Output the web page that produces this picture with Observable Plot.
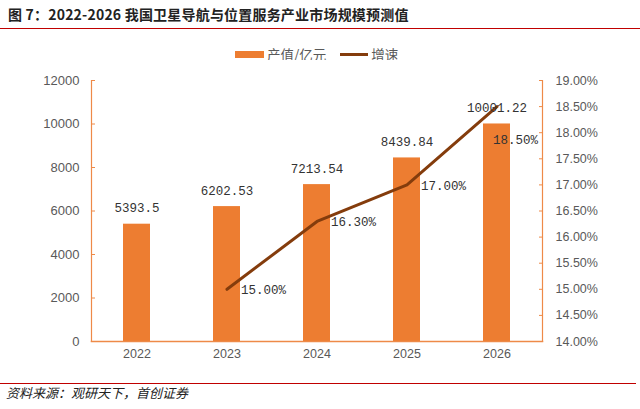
<!DOCTYPE html>
<html><head><meta charset="utf-8">
<script src="https://cdn.jsdelivr.net/npm/d3@7"></script>
<script src="https://cdn.jsdelivr.net/npm/@observablehq/plot@0.6"></script>
<style>
body{margin:0;background:#fff;}
#wrap{position:relative;width:640px;height:409px;overflow:hidden;background:#fff;font-family:"Noto Sans CJK SC",sans-serif;}
#title{position:absolute;left:8px;top:4px;font-size:14px;font-weight:bold;color:#222;white-space:nowrap;letter-spacing:0.2px;}
#rule1{position:absolute;left:0;top:28px;width:640px;height:0;border-top:1.5px solid #C00000;}
#legend{position:absolute;left:235px;top:42px;font-size:13.5px;color:#595959;white-space:nowrap;}
#legend span{display:inline-block;vertical-align:middle;}
#chart{position:absolute;left:0;top:60px;}
#rule2{position:absolute;left:0;top:383px;width:636px;height:0;border-top:1.5px solid #C00000;}
#caption{position:absolute;left:6px;top:383px;font-size:13px;font-style:italic;color:#222;white-space:nowrap;}
</style></head>
<body><div id="wrap">
<div id="title"></div>
<div id="rule1"></div>
<div id="legend"></div>
<div id="chart"></div>
<div id="rule2"></div>
<div id="caption"></div>
</div>
<script>
const titleText = "图 7：2022-2026 我国卫星导航与位置服务产业市场规模预测值";
const captionText = "资料来源：观研天下，首创证券";
const seriesNames = ["产值/亿元", "增速"];
const years = ["2022", "2023", "2024", "2025", "2026"];
const output = [5393.5, 6202.53, 7213.54, 8439.84, 10001.22];
const outputLabels = ["5393.5", "6202.53", "7213.54", "8439.84", "10001.22"];
const growth = [null, 15.00, 16.30, 17.00, 18.50];
const growthLabels = ["", "15.00%", "16.30%", "17.00%", "18.50%"];
const leftTicks = [0, 2000, 4000, 6000, 8000, 10000, 12000];
const rightTicks = [14, 14.5, 15, 15.5, 16, 16.5, 17, 17.5, 18, 18.5, 19];

const barColor = "#ED7D31";
const lineColor = "#843C0C";
const axisColor = "#EE8A48";
const textColor = "#595959";

document.getElementById("title").textContent = titleText;
document.getElementById("caption").textContent = captionText;
document.getElementById("legend").innerHTML =
  `<span style="width:29px;height:7px;background:${barColor}"></span>` +
  `<span style="margin-left:3px">${seriesNames[0]}</span>` +
  `<span style="width:28px;height:3px;background:${lineColor};margin-left:14px"></span>` +
  `<span style="margin-left:3px">${seriesNames[1]}</span>`;

const yMax = 12000, rMin = 14, rMax = 19;
const toLeft = p => (p - rMin) / (rMax - rMin) * yMax;
const toRight = v => v / yMax * (rMax - rMin) + rMin;

const rows = years.map((y, i) => ({year: y, output: output[i], outLabel: outputLabels[i], growth: growth[i], gLabel: growthLabels[i]}));
const lineRows = rows.filter(d => d.growth != null);
const lastRow = lineRows[lineRows.length - 1];
const midRows = lineRows.slice(0, -1);
const labelFont = "Liberation Mono, DejaVu Sans Mono, monospace";

const plot = Plot.plot({
  width: 640,
  height: 311,
  marginLeft: 91,
  marginRight: 98,
  marginTop: 20,
  marginBottom: 30,
  style: {fontFamily: "Liberation Sans, Arial, sans-serif", fontSize: "12.5px", color: textColor, background: "#fff"},
  x: {domain: years, paddingInner: 0.70, paddingOuter: 0.35, label: null},
  y: {domain: [0, yMax], label: null},
  marks: [
    Plot.barY(rows, {x: "year", y: "output", fill: barColor}),
    Plot.frame({anchor: "left", stroke: axisColor, strokeWidth: 1.2}),
    Plot.frame({anchor: "right", stroke: axisColor, strokeWidth: 1.2}),
    Plot.frame({anchor: "bottom", stroke: axisColor, strokeWidth: 1.5}),
    Plot.axisY({anchor: "left", ticks: leftTicks, tickFormat: d3.format("d"), tickSize: -4, tickPadding: 16, stroke: axisColor, fill: textColor, fontSize: 13, label: null}),
    Plot.axisY({anchor: "right", ticks: rightTicks.map(toLeft), tickFormat: v => toRight(v).toFixed(2) + "%", tickSize: -4, tickPadding: 17, stroke: axisColor, fill: textColor, label: null}),
    Plot.axisX({anchor: "bottom", tickSize: 0, tickPadding: 8, fill: textColor, label: null}),
    Plot.line(lineRows, {x: "year", y: d => toLeft(d.growth), stroke: lineColor, strokeWidth: 3}),
    Plot.text(rows, {x: "year", y: "output", text: "outLabel", dy: -16, fill: "#333", fontFamily: labelFont, fontSize: 12.5}),
    Plot.text(midRows, {x: "year", y: d => toLeft(d.growth), text: "gLabel", textAnchor: "start", dx: 14, dy: 1, fill: "#333", fontFamily: labelFont, fontSize: 12.5}),
    Plot.text([lastRow], {x: "year", y: d => toLeft(d.growth), text: "gLabel", textAnchor: "start", dx: -4, dy: 33, fill: "#333", fontFamily: labelFont, fontSize: 12.5})
  ]
});
document.getElementById("chart").appendChild(plot);
</script>
</body></html>
